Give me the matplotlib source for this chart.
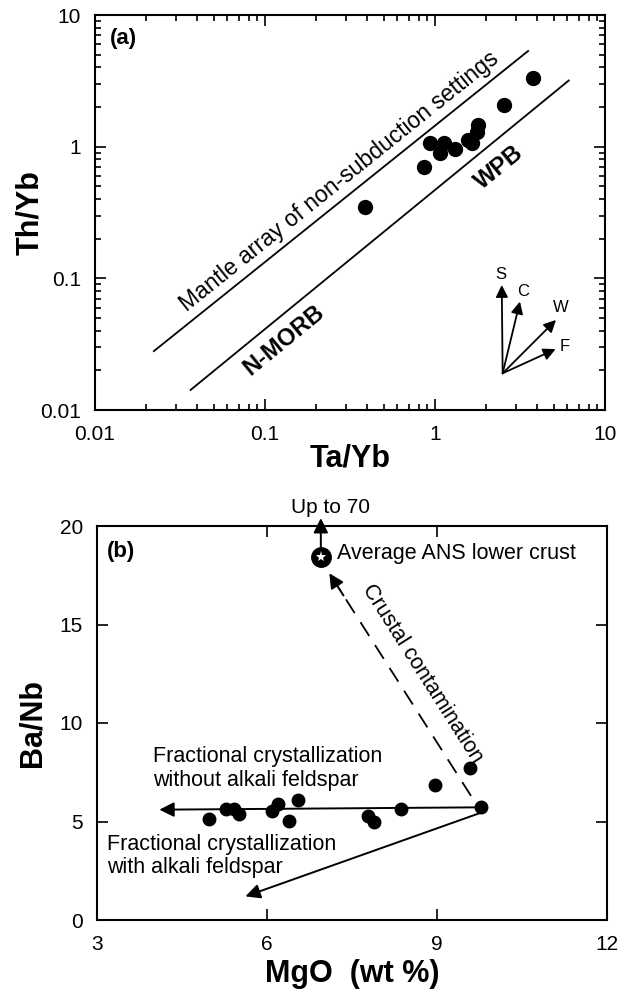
import numpy as np
import matplotlib
matplotlib.use("Agg")
import matplotlib.pyplot as plt
from matplotlib.ticker import FixedLocator, FixedFormatter, LogLocator, NullFormatter

plt.rcParams['font.family'] = ['Liberation Sans', 'DejaVu Sans']
BOLD = ['Liberation Sans', 'DejaVu Sans']

# (a) Th/Yb vs Ta/Yb
ta_yb = [0.39, 0.86, 0.935, 1.07, 1.13, 1.31, 1.57, 1.66, 1.76, 1.80, 2.55, 3.76]
th_yb = [0.35, 0.705, 1.06, 0.90, 1.06, 0.955, 1.12, 1.06, 1.30, 1.46, 2.06, 3.34]
mantle_upper = ([0.0222, 3.53], [0.028, 5.33])
mantle_lower = ([0.0365, 6.12], [0.0142, 3.18])
vec_origin = (2.50, 0.019)
vec_tips = {'S': (2.47, 0.089), 'C': (3.16, 0.0666), 'W': (5.15, 0.0483), 'F': (5.12, 0.029)}
vec_labels = {'S': (2.45, 0.107), 'C': (3.3, 0.079), 'W': (5.5, 0.060), 'F': (5.8, 0.0305)}

# (b) Ba/Nb vs MgO
mgo = [4.97, 5.28, 5.42, 5.50, 6.08, 6.20, 6.38, 6.55, 7.78, 7.88, 8.37, 8.97, 9.58, 9.78]
ba_nb = [5.12, 5.65, 5.62, 5.40, 5.55, 5.88, 5.05, 6.10, 5.28, 4.98, 5.62, 6.86, 7.70, 5.72]
ans_crust = (6.95, 18.45)
fc_without = ((9.78, 5.72), (4.1, 5.6))
fc_with = ((9.75, 5.42), (5.62, 1.2))
contam = ((9.6, 6.3), (7.1, 17.6))

fig = plt.figure(figsize=(6.38, 9.89), dpi=100)
ax1 = fig.add_axes([95/638, 1-410/989, 510/638, 395/989])
ax2 = fig.add_axes([97/638, 1-920/989, 510/638, 394/989])

# ---- panel a
ax1.set_xscale('log')
ax1.set_yscale('log')
ax1.set_xlim(0.01, 10)
ax1.set_ylim(0.01, 10)
ax1.plot(*mantle_upper, color='k', lw=1.3)
ax1.plot(*mantle_lower, color='k', lw=1.3)
ax1.plot(ta_yb, th_yb, 'o', color='k', ms=10)

for k, tip in vec_tips.items():
    ax1.annotate('', xy=tip, xytext=vec_origin,
                 arrowprops=dict(arrowstyle='-|>', color='k', lw=1.3, mutation_scale=18,
                                 shrinkA=0, shrinkB=0))
    ax1.text(*vec_labels[k], k, fontsize=12, ha='center', va='center')

ticks = [0.01, 0.1, 1, 10]
labs = ['0.01', '0.1', '1', '10']
for axis in (ax1.xaxis, ax1.yaxis):
    axis.set_major_locator(FixedLocator(ticks))
    axis.set_major_formatter(FixedFormatter(labs))
    axis.set_minor_locator(LogLocator(base=10, subs=np.arange(2, 10)))
    axis.set_minor_formatter(NullFormatter())
ax1.tick_params(which='both', direction='in', top=True, right=True, width=1.2, labelsize=15)
ax1.tick_params(which='major', length=8)
ax1.tick_params(which='minor', length=4)
ax1.tick_params(axis='x', which='major', pad=11)
ax1.tick_params(axis='y', which='major', pad=10)
ax1.set_xlabel('Ta/Yb', fontsize=22, fontweight='bold', family=BOLD)
ax1.set_ylabel('Th/Yb', fontsize=22, fontweight='bold', family=BOLD)
ax1.xaxis.set_label_coords(0.5, -0.085)
ax1.yaxis.set_label_coords(-0.097, 0.5)
ax1.text(0.03, 0.94, '(a)', transform=ax1.transAxes, fontsize=16, fontweight='bold',
         family=BOLD, va='center')


def angle_of(ax, p0, p1):
    a = ax.transData.transform(p0)
    b = ax.transData.transform(p1)
    return np.degrees(np.arctan2(b[1] - a[1], b[0] - a[0]))


ang_up = angle_of(ax1, (mantle_upper[0][0], mantle_upper[1][0]), (mantle_upper[0][1], mantle_upper[1][1]))
ang_lo = angle_of(ax1, (mantle_lower[0][0], mantle_lower[1][0]), (mantle_lower[0][1], mantle_lower[1][1]))
ax1.text(0.272, 0.54, 'Mantle array of non-subduction settings', rotation=ang_up,
         rotation_mode='anchor', ha='center', va='center', fontsize=16.5)
ax1.text(0.13, 0.034, 'N-MORB', rotation=ang_lo, rotation_mode='anchor', ha='center', va='center',
         fontsize=17, fontweight='bold', family=BOLD)
ax1.text(2.4, 0.69, 'WPB', rotation=ang_lo, rotation_mode='anchor', ha='center', va='center',
         fontsize=17, fontweight='bold', family=BOLD)

# ---- panel b
ax2.set_xlim(3, 12)
ax2.set_ylim(0, 20)
ax2.set_xticks([3, 6, 9, 12])
ax2.set_yticks([0, 5, 10, 15, 20])
ax2.tick_params(direction='in', top=True, right=True, length=8, width=1.2, labelsize=15)
ax2.tick_params(axis='x', pad=11)
ax2.tick_params(axis='y', pad=10)
ax2.set_xlabel('MgO  (wt %)', fontsize=22, fontweight='bold', family=BOLD)
ax2.set_ylabel('Ba/Nb', fontsize=22, fontweight='bold', family=BOLD)
ax2.xaxis.set_label_coords(0.5, -0.1)
ax2.yaxis.set_label_coords(-0.097, 0.5)
ax2.text(0.02, 0.935, '(b)', transform=ax2.transAxes, fontsize=16, fontweight='bold',
         family=BOLD, va='center')

# arrows
arr = dict(arrowstyle='-|>', color='k', lw=1.4, mutation_scale=22, shrinkA=0, shrinkB=0)
ax2.annotate('', xy=fc_without[1], xytext=fc_without[0], arrowprops=arr)
ax2.annotate('', xy=fc_with[1], xytext=fc_with[0], arrowprops=arr)
(cx0, cy0), (cx1, cy1) = contam
ax2.plot([cx0, cx0 + 0.93 * (cx1 - cx0)], [cy0, cy0 + 0.93 * (cy1 - cy0)], color='k', lw=1.3,
         dashes=(9, 6))
ax2.annotate('', xy=(cx1, cy1), xytext=(cx0 + 0.9 * (cx1 - cx0), cy0 + 0.9 * (cy1 - cy0)),
             arrowprops=arr)
ax2.annotate('', xy=(ans_crust[0], 20.4), xytext=ans_crust, arrowprops=arr, annotation_clip=False)

ax2.plot(mgo, ba_nb, 'o', color='k', ms=9)
ax2.plot(*ans_crust, 'o', color='k', ms=14, clip_on=False, zorder=5)
ax2.plot(*ans_crust, '*', color='w', ms=8, mew=0, zorder=6)

ax2.text(7.12, 20.95, 'Up to 70', ha='center', va='center', fontsize=15, clip_on=False)
ax2.text(7.23, 18.6, 'Average ANS lower crust', ha='left', va='center', fontsize=15.5)
ax2.text(3.98, 7.7, 'Fractional crystallization\nwithout alkali feldspar', ha='left', va='center',
         fontsize=15.5, linespacing=1.15)
ax2.text(3.17, 3.25, 'Fractional crystallization\nwith alkali feldspar', ha='left', va='center',
         fontsize=15.5, linespacing=1.15)
ang_c = angle_of(ax2, (cx1, cy1), (cx0, cy0))
ax2.text(8.75, 12.5, 'Crustal contamination', rotation=ang_c, rotation_mode='anchor',
         ha='center', va='center', fontsize=15.5)

for ax in (ax1, ax2):
    for s in ax.spines.values():
        s.set_linewidth(1.5)

fig.savefig('out.png', dpi=100)
